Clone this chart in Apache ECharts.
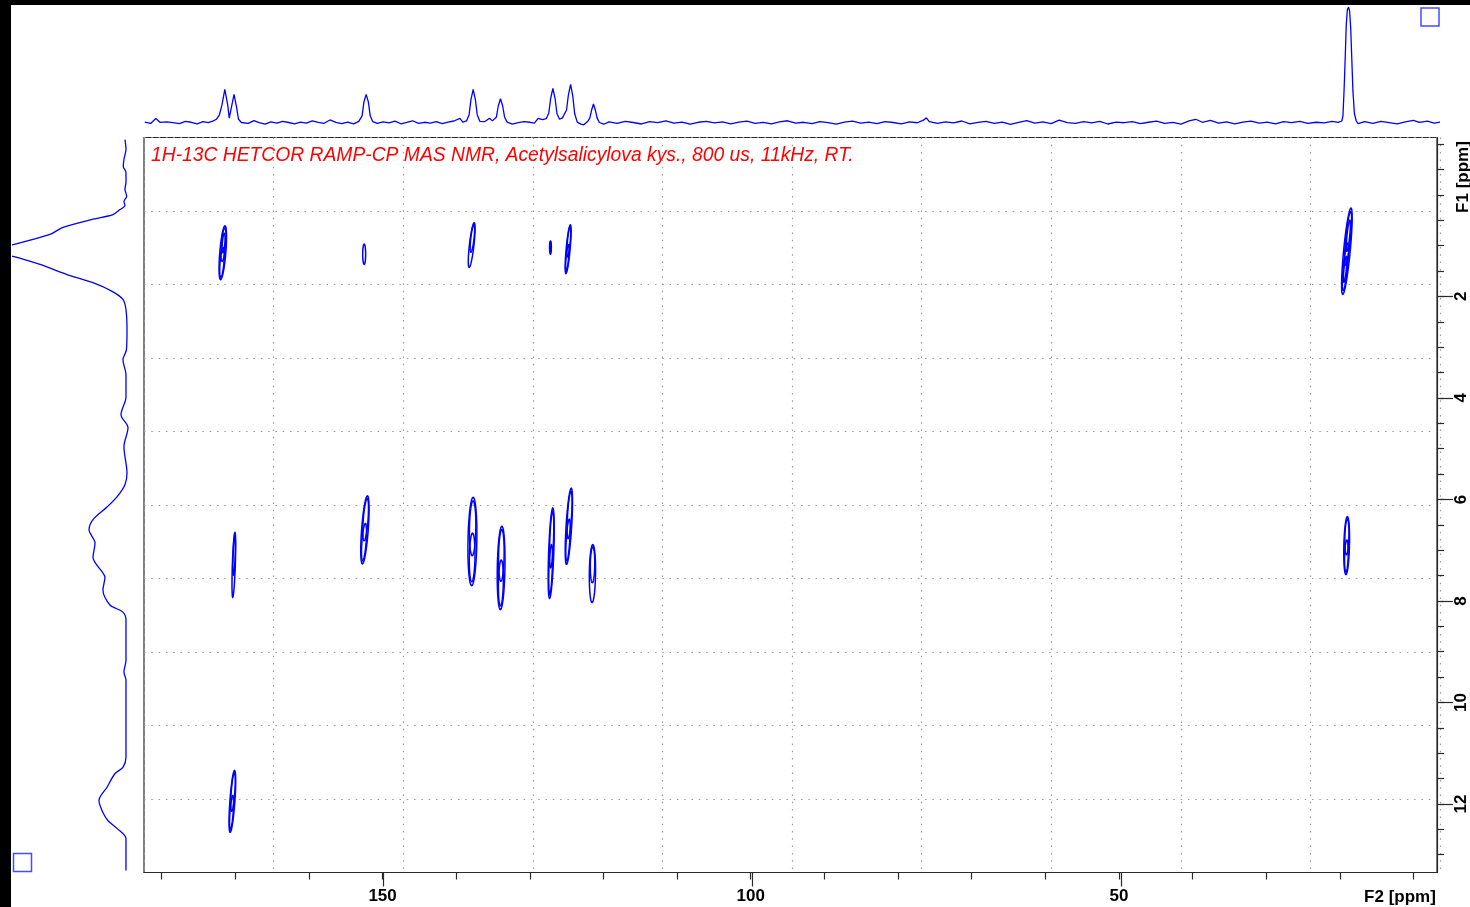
<!DOCTYPE html>
<html>
<head>
<meta charset="utf-8">
<title>1H-13C HETCOR</title>
<script src="https://cdn.jsdelivr.net/npm/echarts@6.0.0/dist/echarts.min.js"></script>
<style>
  html, body { margin: 0; padding: 0; background: #fff; }
  #chart { width: 1470px; height: 907px; }
</style>
</head>
<body>
<div id="chart"></div>
<script>
// ---- spectral window (ppm) ----
const F2_RANGE = [6.8, 182.4];     // 13C, drawn high -> low from left to right
const F1_RANGE = [-1.13, 13.35];   // 1H, drawn low -> high from top to bottom

// ---- axis ticks and labels ----
const F2_TICKS = [10, 20, 30, 40, 50, 60, 70, 80, 90, 100, 110, 120, 130, 140, 150, 160, 170, 180];
const F2_LABELS = [50, 100, 150];
const F1_TICKS = [-1, -0.5, 0, 0.5, 1, 1.5, 2, 2.5, 3, 3.5, 4, 4.5, 5, 5.5, 6, 6.5, 7, 7.5, 8, 8.5, 9, 9.5, 10, 10.5, 11, 11.5, 12, 12.5, 13];
const F1_LABELS = [2, 4, 6, 8, 10, 12];

const TITLE = '1H-13C HETCOR RAMP-CP MAS NMR, Acetylsalicylova kys., 800 us, 11kHz, RT.';

// ---- cross peaks: [F2 ppm, F1 ppm, half-width F2 ppm, half-width F1 ppm, tilt F2 ppm, contour levels] ----
const crossPeaks = [
  [171.7, 1.14, 0.41, 0.53, 0.30, 4],
  [152.5, 1.17, 0.20, 0.20, 0.00, 1],
  [137.9, 0.99, 0.31, 0.44, 0.34, 2],
  [127.2, 1.04, 0.12, 0.13, 0.00, 2],
  [124.8, 1.07, 0.27, 0.48, 0.30, 3],
  [19.04, 1.11, 0.45, 0.85, 0.56, 5],
  [19.07, 6.91, 0.38, 0.57, 0.10, 3],
  [170.2, 7.29, 0.20, 0.64, 0.15, 2],
  [152.4, 6.60, 0.45, 0.67, 0.34, 3],
  [137.8, 6.83, 0.60, 0.87, 0.10, 3],
  [133.9, 7.35, 0.52, 0.82, 0.10, 3],
  [127.1, 7.06, 0.35, 0.89, 0.22, 3],
  [124.7, 6.53, 0.38, 0.75, 0.32, 3],
  [121.5, 7.46, 0.42, 0.57, 0.05, 2],
  [170.4, 11.95, 0.34, 0.61, 0.30, 3]
];

// ---- 13C projection (F2): [ppm, intensity %] ----
const f2Trace = [
  [182.3, 0.5], [181.5, -0.6], [180.8, 3.6], [180.2, 0.3], [179.3, 0.8], [178.5, 0.1], [177.6, -0.7],
  [176.8, 1.2], [176.0, 0.4], [175.2, -0.9], [174.4, 0.9], [173.7, 0.1], [173.0, 1.6], [172.6, 3.0],
  [172.2, 6.5], [171.85, 15.0], [171.45, 28.9], [171.05, 15.0], [170.85, 4.0], [170.6, 12.0],
  [170.2, 24.6], [169.85, 13.0], [169.6, 3.0], [169.2, 0.2], [168.3, -0.5], [167.5, 1.8], [166.8, 0.1],
  [166.0, -1.2], [165.2, 0.8], [164.4, -0.4], [163.6, 1.1], [162.8, 0.2], [162.0, -0.9], [161.2, 0.6],
  [160.4, -0.3], [159.6, 1.6], [158.8, 0.4], [158.0, -0.5], [157.2, 2.4], [156.4, 0.3], [155.6, -0.7],
  [154.8, 0.5], [154.0, -1.0], [153.3, 1.2], [152.85, 6.0], [152.6, 18.0], [152.3, 24.6], [152.0, 18.0],
  [151.75, 6.0], [151.4, 0.9], [150.8, -0.6], [150.0, 0.8], [149.2, -0.2], [148.4, 1.4], [147.6, -0.9],
  [146.8, 0.3], [146.0, 1.7], [145.2, -0.5], [144.4, 0.4], [143.6, -0.3], [142.8, 0.9], [142.0, -0.8],
  [141.2, 0.6], [140.4, 1.5], [139.6, 3.8], [139.2, 0.6], [138.7, 1.5], [138.35, 7.0], [138.1, 20.0],
  [137.8, 28.9], [137.5, 20.0], [137.25, 7.0], [136.9, 1.2], [136.2, 1.0], [135.6, 3.8], [135.2, 1.6],
  [134.65, 5.0], [134.4, 14.5], [134.1, 20.8], [133.8, 14.5], [133.55, 5.0], [133.2, 0.5], [132.5, -1.2],
  [131.7, 0.1], [130.9, 1.0], [130.1, 0.4], [129.5, -0.3], [129.0, 3.8], [128.4, 2.6], [127.9, 3.5],
  [127.55, 8.5], [127.3, 21.0], [127.0, 29.8], [126.7, 21.0], [126.45, 8.0], [126.1, 3.0], [125.7, 4.2],
  [125.45, 5.0], [125.15, 11.0], [124.9, 24.0], [124.6, 33.3], [124.3, 23.0], [124.05, 8.0], [123.7, 0.5],
  [123.2, -1.2], [122.8, -1.8], [122.3, 1.0], [122.0, 4.0], [121.75, 11.0], [121.5, 16.2], [121.25, 11.0],
  [121.0, 4.0], [120.7, 0.2], [120.1, -1.3], [119.4, 0.8], [118.3, -0.6], [117.2, 1.2], [116.1, 0.2],
  [115.0, -1.1], [113.9, 0.9], [112.8, 0.1], [111.7, 1.6], [110.6, -0.4], [109.5, 0.6], [108.4, -1.3],
  [107.3, 0.4], [106.2, 1.1], [105.1, -0.2], [104.0, 0.7], [102.9, -0.9], [101.8, 0.5], [100.7, 1.4],
  [99.6, -0.5], [98.5, 0.3], [97.4, -1.0], [96.3, 0.8], [95.2, 1.7], [94.1, -0.3], [93.0, 0.4],
  [91.9, -0.8], [90.8, 1.0], [89.7, 0.1], [88.6, -1.2], [87.5, 0.6], [86.4, 1.3], [85.3, -0.4],
  [84.2, 0.5], [83.1, -0.7], [82.0, 0.9], [80.9, 0.2], [79.8, -1.0], [78.7, 0.7], [77.6, 0.0],
  [76.8, 2.2], [76.4, 4.2], [76.0, 1.0], [74.9, -0.6], [73.8, 0.8], [72.7, -0.2], [71.6, 1.5],
  [70.5, -0.9], [69.4, 0.3], [68.3, 1.1], [67.2, -0.5], [66.1, 0.6], [65.0, -1.4], [63.9, 0.4],
  [62.8, 1.8], [61.7, -0.3], [60.6, 0.7], [59.5, -0.8], [58.4, 2.3], [57.3, 0.1], [56.2, -0.6],
  [55.1, 0.9], [54.0, -0.2], [52.9, 1.2], [51.8, -1.1], [50.7, 0.5], [49.6, 0.0], [48.5, 1.0],
  [47.4, -0.7], [46.3, 0.4], [45.2, 1.4], [44.1, -0.5], [43.0, 0.3], [41.9, -1.2], [40.8, 1.6],
  [39.9, 3.0], [39.0, 0.4], [37.9, 2.1], [36.8, -0.4], [35.7, 0.8], [34.6, -0.9], [33.5, 0.6],
  [32.4, 1.3], [31.3, -0.3], [30.2, 0.5], [29.1, -1.0], [28.0, 0.9], [26.9, 0.1], [25.8, 1.2],
  [24.7, -0.6], [23.6, 0.4], [22.5, -0.2], [21.4, 1.1], [20.6, 0.3], [20.1, 1.5], [19.95, 6.0],
  [19.8, 28.0], [19.65, 55.0], [19.5, 85.0], [19.35, 98.0], [19.2, 100.0], [19.05, 97.0], [18.9, 82.0],
  [18.75, 55.0], [18.6, 28.0], [18.4, 8.0], [18.15, 1.5], [17.9, -0.8], [17.0, 0.9], [15.9, -0.5],
  [14.8, 1.2], [13.7, 0.1], [12.6, -1.0], [11.5, 0.8], [10.4, 2.0], [9.6, 0.3], [8.5, 1.4],
  [7.6, -0.4], [6.8, 0.6]
];

// ---- 1H projection (F1): [ppm, intensity %] ----
const f1Trace = [
  [-1.09, 0.9], [-0.90, 0.0], [-0.70, 1.8], [-0.56, 2.4], [-0.44, 0.0], [-0.25, 0.0], [-0.11, 0.9],
  [0.03, -0.6], [0.13, 1.8], [0.21, 0.9], [0.29, 5.3], [0.39, 11.5], [0.48, 29.2], [0.64, 55.8],
  [0.78, 67.3], [0.98, 100.0], [1.10, 124.8], [1.21, 100.0], [1.37, 76.1], [1.57, 52.2], [1.73, 29.2],
  [1.91, 11.5], [2.06, 2.7], [2.26, 0.0], [2.66, -0.9], [3.05, -0.4], [3.25, 2.7], [3.54, 0.0],
  [3.98, 0.0], [4.33, 4.4], [4.59, -1.8], [4.96, 1.8], [5.48, -0.9], [5.71, 0.9], [5.95, 8.0],
  [6.15, 16.8], [6.40, 29.2], [6.60, 32.7], [6.86, 27.4], [7.14, 29.2], [7.45, 20.4], [7.53, 18.6],
  [7.79, 20.4], [8.08, 14.2], [8.22, 2.7], [8.38, 0.0], [8.77, 0.0], [9.17, 0.0], [9.40, 1.8],
  [9.56, 0.0], [9.95, 0.0], [10.35, 0.0], [10.74, 0.0], [11.08, 0.0], [11.28, 2.7], [11.40, 9.7],
  [11.67, 16.8], [11.93, 23.9], [12.17, 20.4], [12.33, 15.9], [12.48, 8.0], [12.68, 0.0], [12.86, 0.0],
  [13.11, 0.0], [13.31, 0.0]
];

// ---- frame geometry ----
const PLOT = { left: 144, top: 137.5, width: 1296, height: 735 };
const TOP_TRACE = { left: 144, top: 7.3, width: 1296, height: 121.2 };
const SIDE_TRACE = { left: 13, top: 137.5, width: 117.5, height: 735 };

const BLUE = '#0000ff';
const AXIS_INK = '#2a2a2a';
const LABEL_FONT = { fontFamily: 'Liberation Sans', fontWeight: 'bold', fontSize: 17, color: '#000' };

// nested contour rings: width / height scale and vertical offset (fraction of half-height)
const RINGS = [
  { sx: 1.00, sy: 1.00, oy: 0.00 },
  { sx: 0.72, sy: 0.62, oy: -0.30 },
  { sx: 0.64, sy: 0.55, oy: 0.36 },
  { sx: 0.42, sy: 0.36, oy: -0.36 },
  { sx: 0.36, sy: 0.30, oy: 0.42 }
];

function renderContour(params, api) {
  const c = api.coord([api.value(0), api.value(1)]);
  const sz = api.size([api.value(2), api.value(3)]);
  const lean = api.size([api.value(4), 0])[0];
  const n = api.value(5);
  const children = [];
  for (let k = 0; k < n; k++) {
    const r = RINGS[k];
    const rx = sz[0] * r.sx, ry = sz[1] * r.sy;
    const cx = c[0] - lean * r.oy, cy = c[1] + sz[1] * r.oy;
    const pts = [];
    for (let i = 0; i <= 60; i++) {
      const t = (i / 60) * Math.PI * 2;
      const s = Math.sin(t), co = Math.cos(t);
      pts.push([cx + rx * co - lean * r.sy * s, cy + ry * s]);
    }
    children.push({
      type: 'polyline',
      shape: { points: pts },
      style: { stroke: BLUE, lineWidth: 1.5, fill: null }
    });
  }
  return { type: 'group', children };
}

const dotted = { show: true, lineStyle: { color: '#9a9a9a', width: 1.2, type: [1.5, 5.8] } };
const hidden = { show: false };

const chart = echarts.init(document.getElementById('chart'), null, { renderer: 'canvas' });

chart.setOption({
  animation: false,
  backgroundColor: '#fff',
  grid: [
    Object.assign({ show: true, borderColor: AXIS_INK, borderWidth: 1.2, backgroundColor: 'transparent' }, PLOT),
    Object.assign({}, PLOT),
    Object.assign({}, PLOT),
    Object.assign({}, TOP_TRACE),
    Object.assign({}, SIDE_TRACE)
  ],
  xAxis: [
    {
      gridIndex: 0, type: 'value', inverse: true, position: 'bottom',
      min: F2_RANGE[0], max: F2_RANGE[1],
      axisLine: { show: true, onZero: false, lineStyle: { color: AXIS_INK, width: 1.2 } },
      axisTick: { show: true, length: 7, customValues: F2_TICKS, lineStyle: { color: AXIS_INK, width: 1.2 } },
      axisLabel: Object.assign({ show: true, customValues: F2_LABELS, margin: 15 }, LABEL_FONT),
      splitLine: hidden
    },
    {
      gridIndex: 1, type: 'value', inverse: true, position: 'bottom',
      min: F2_RANGE[0], max: F2_RANGE[1],
      axisLine: { show: false, onZero: false },
      axisTick: { show: true, length: 14, customValues: F2_LABELS, lineStyle: { color: AXIS_INK, width: 1.2 } },
      axisLabel: hidden, splitLine: hidden
    },
    {
      gridIndex: 2, type: 'value', min: 0, max: 10, interval: 1,
      axisLine: { show: false, onZero: false }, axisTick: hidden, axisLabel: hidden, splitLine: dotted
    },
    {
      gridIndex: 3, type: 'value', inverse: true, min: F2_RANGE[0], max: F2_RANGE[1], show: false,
      axisLine: { onZero: false }
    },
    {
      gridIndex: 4, type: 'value', inverse: true, min: -4, max: 100, show: false,
      axisLine: { onZero: false }
    }
  ],
  yAxis: [
    {
      gridIndex: 0, type: 'value', inverse: true, position: 'right',
      min: F1_RANGE[0], max: F1_RANGE[1],
      axisLine: { show: true, onZero: false, lineStyle: { color: AXIS_INK, width: 1.2 } },
      axisTick: { show: true, length: 7, customValues: F1_TICKS, lineStyle: { color: AXIS_INK, width: 1.2 } },
      axisLabel: Object.assign({ show: true, customValues: F1_LABELS, margin: 16, rotate: 90 }, LABEL_FONT),
      splitLine: hidden
    },
    {
      gridIndex: 1, type: 'value', inverse: true, position: 'right',
      min: F1_RANGE[0], max: F1_RANGE[1],
      axisLine: { show: false, onZero: false },
      axisTick: { show: true, length: 13, customValues: F1_LABELS, lineStyle: { color: AXIS_INK, width: 1.2 } },
      axisLabel: hidden, splitLine: hidden
    },
    {
      gridIndex: 2, type: 'value', min: 0, max: 10, interval: 1,
      axisLine: { show: false, onZero: false }, axisTick: hidden, axisLabel: hidden, splitLine: dotted
    },
    {
      gridIndex: 3, type: 'value', min: -5, max: 100, show: false,
      axisLine: { onZero: false }
    },
    {
      gridIndex: 4, type: 'value', inverse: true, min: F1_RANGE[0], max: F1_RANGE[1], show: false,
      axisLine: { onZero: false }
    }
  ],
  series: [
    {
      type: 'custom', name: 'contours',
      xAxisIndex: 0, yAxisIndex: 0,
      renderItem: renderContour,
      encode: { x: 0, y: 1 },
      data: crossPeaks,
      clip: true, silent: true, z: 5
    },
    {
      type: 'line', name: 'F2 projection',
      xAxisIndex: 3, yAxisIndex: 3,
      data: f2Trace,
      showSymbol: false, smooth: false, clip: true, silent: true,
      lineStyle: { color: BLUE, width: 1.3 }
    },
    {
      type: 'line', name: 'F1 projection',
      xAxisIndex: 4, yAxisIndex: 4,
      data: f1Trace.map(p => [p[1], p[0]]),
      showSymbol: false, smooth: 0.3, clip: true, silent: true,
      lineStyle: { color: BLUE, width: 1.3 }
    }
  ],
  graphic: [
    { type: 'rect', shape: { x: 0, y: 0, width: 1470, height: 5 }, style: { fill: '#000' }, z: 100 },
    { type: 'rect', shape: { x: 0, y: 0, width: 11, height: 907 }, style: { fill: '#000' }, z: 100 },
    { type: 'rect', shape: { x: 1421, y: 8, width: 18, height: 18 }, style: { fill: null, stroke: '#4a4aff', lineWidth: 1.5 }, z: 100 },
    { type: 'rect', shape: { x: 13.5, y: 853.5, width: 18, height: 18 }, style: { fill: null, stroke: '#4a4aff', lineWidth: 1.5 }, z: 100 },
    {
      type: 'text', x: 151, y: 156, z: 100,
      style: {
        text: TITLE, fill: '#ff0000', fontFamily: 'Liberation Sans', fontStyle: 'italic',
        fontSize: 19.3, textVerticalAlign: 'middle', textAlign: 'left'
      }
    },
    {
      type: 'text', x: 1400, y: 897, z: 100,
      style: {
        text: 'F2 [ppm]', fill: '#000', fontFamily: 'Liberation Sans', fontWeight: 'bold',
        fontSize: 17, textAlign: 'center', textVerticalAlign: 'middle'
      }
    },
    {
      type: 'text', x: 1463, y: 177, rotation: Math.PI / 2, z: 100,
      style: {
        text: 'F1 [ppm]', fill: '#000', fontFamily: 'Liberation Sans', fontWeight: 'bold',
        fontSize: 17, textAlign: 'center', textVerticalAlign: 'middle'
      }
    }
  ]
});
</script>
</body>
</html>
